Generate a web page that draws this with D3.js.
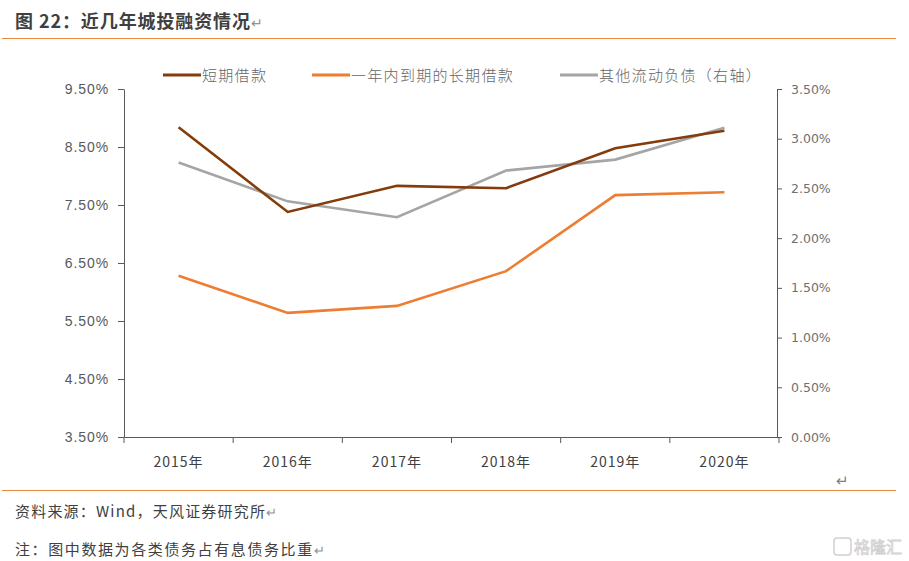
<!DOCTYPE html>
<html>
<head>
<meta charset="utf-8">
<script src="https://cdn.jsdelivr.net/npm/d3@7"></script>
<style>
body { margin: 0; background: #fff; }
text { font-family: "Liberation Sans", "Noto Sans CJK SC", sans-serif; }
.cjk { font-family: "Noto Sans CJK SC", sans-serif; }
</style>
</head>
<body>
<div class="chart"></div>
<script>
var years = ['2015年', '2016年', '2017年', '2018年', '2019年', '2020年'];
var shortLoan = [8.84, 7.38, 7.83, 7.79, 8.48, 8.78];
var longDue = [6.28, 5.64, 5.76, 6.36, 7.67, 7.72];
var otherLiab = [2.76, 2.37, 2.21, 2.68, 2.79, 3.11];
var leftTicks = [3.5, 4.5, 5.5, 6.5, 7.5, 8.5, 9.5];
var rightTicks = [0, 0.5, 1, 1.5, 2, 2.5, 3, 3.5];
var seriesNames = ['短期借款', '一年内到期的长期借款', '其他流动负债（右轴）'];
var colors = ['#843C0C', '#ED7D31', '#A5A5A5'];

var width = 909, height = 561;
var svg = d3.select(".chart").append("svg")
  .attr("width", width).attr("height", height);

// title
var title = svg.append("text").attr("class", "cjk")
  .attr("x", 15).attr("y", 28)
  .style("font-size", "18px").style("font-weight", "bold").style("fill", "#404040")
  .style("letter-spacing", "0.9px");
title.append("tspan").text("图 22：近几年城投融资情况");
title.append("tspan").style("font-weight", "normal").style("fill", "#909090").style("font-size", "14px").text("↵");
svg.append("line").attr("x1", 2).attr("x2", 896).attr("y1", 38.5).attr("y2", 38.5)
  .style("stroke", "#E8883A").style("stroke-width", 1.2);

var x = d3.scaleBand().domain(years).range([124, 779]);
var yL = d3.scaleLinear().domain([3.5, 9.5]).range([437, 89]);
var yR = d3.scaleLinear().domain([0, 3.5]).range([437, 89]);

var leftAxis = svg.append("g").attr("transform", "translate(124,0)")
  .call(d3.axisLeft(yL).tickValues(leftTicks).tickSize(6).tickSizeOuter(0)
    .tickFormat(function(d) { return d.toFixed(2) + "%"; }));
var rightAxis = svg.append("g").attr("transform", "translate(777,0)")
  .call(d3.axisRight(yR).tickValues(rightTicks).tickSize(5).tickSizeOuter(0)
    .tickFormat(function(d) { return d.toFixed(2) + "%"; }));
var bottomAxis = svg.append("g").attr("transform", "translate(0,437)")
  .call(d3.axisBottom(x).tickSize(0).tickPadding(20).tickSizeOuter(0));

// band boundary ticks
svg.append("g").selectAll("line")
  .data(years.concat(['end']))
  .enter().append("line")
  .attr("x1", function(d, i) { return i < years.length ? x(d) : x.range()[1]; })
  .attr("x2", function(d, i) { return i < years.length ? x(d) : x.range()[1]; })
  .attr("y1", 437).attr("y2", 443)
  .style("stroke", "#595959");

[leftAxis, rightAxis, bottomAxis].forEach(function(a) {
  a.selectAll("path, line").style("stroke", "#595959");
  a.selectAll("text").style("fill", "#595959").style("font-size", "14px");
});
leftAxis.selectAll("text").attr("dx", "-6").style("letter-spacing", "0.9px");
rightAxis.selectAll("text").attr("dx", "6").style("font-family", "DejaVu Sans").style("font-size", "12.5px").style("fill", "#707070");
bottomAxis.selectAll("text").attr("class", "cjk").style("font-size", "14px").style("fill", "#404040").style("letter-spacing", "1px");

var lineL = d3.line()
  .x(function(d, i) { return x(years[i]) + x.bandwidth() / 2; })
  .y(function(d) { return yL(d); });
var lineR = d3.line()
  .x(function(d, i) { return x(years[i]) + x.bandwidth() / 2; })
  .y(function(d) { return yR(d); });

svg.append("path").datum(otherLiab).attr("d", lineR)
  .style("fill", "none").style("stroke", colors[2]).style("stroke-width", 2.6);
svg.append("path").datum(longDue).attr("d", lineL)
  .style("fill", "none").style("stroke", colors[1]).style("stroke-width", 2.6);
svg.append("path").datum(shortLoan).attr("d", lineL)
  .style("fill", "none").style("stroke", colors[0]).style("stroke-width", 2.6);

// legend
var legendX = [163, 312, 560];
var legend = svg.append("g").selectAll("g")
  .data(seriesNames).enter().append("g")
  .attr("transform", function(d, i) { return "translate(" + legendX[i] + ",75)"; });
legend.append("line").attr("x1", 0).attr("x2", 38).attr("y1", 0).attr("y2", 0)
  .style("stroke", function(d, i) { return colors[i]; }).style("stroke-width", 3);
legend.append("text").attr("class", "cjk")
  .attr("x", 39).attr("y", 5.5)
  .style("font-size", "15px").style("fill", "#666").style("font-weight", "300")
  .style("letter-spacing", "1.3px")
  .text(function(d) { return d; });

svg.append("text").attr("x", 836).attr("y", 486).style("font-size", "15px").style("fill", "#808080").text("↵");

// footer
svg.append("line").attr("x1", 2).attr("x2", 896).attr("y1", 490.5).attr("y2", 490.5)
  .style("stroke", "#E8883A").style("stroke-width", 1.2);
var src = svg.append("text").attr("class", "cjk")
  .attr("x", 15).attr("y", 517)
  .style("font-size", "15px").style("fill", "#404040").style("letter-spacing", "1.2px");
src.append("tspan").text("资料来源：Wind，天风证券研究所");
src.append("tspan").style("fill", "#909090").style("font-size", "13px").text("↵");
var note = svg.append("text").attr("class", "cjk")
  .attr("x", 15).attr("y", 555)
  .style("font-size", "15px").style("fill", "#404040").style("letter-spacing", "1.6px");
note.append("tspan").text("注：图中数据为各类债务占有息债务比重");
note.append("tspan").style("fill", "#909090").style("font-size", "13px").text("↵");

// watermark
var wm = svg.append("g").attr("transform", "translate(834,538)");
wm.append("rect").attr("x", 0).attr("y", 0).attr("width", 17).attr("height", 17).attr("rx", 3)
  .style("fill", "none").style("stroke", "#d0d0d0").style("stroke-width", 1.5);
wm.append("text").attr("class", "cjk").attr("x", 20).attr("y", 15)
  .style("font-size", "16px").style("fill", "#fff").style("stroke", "#cfcfcf").style("stroke-width", 0.8)
  .text("格隆汇");
</script>
</body>
</html>
